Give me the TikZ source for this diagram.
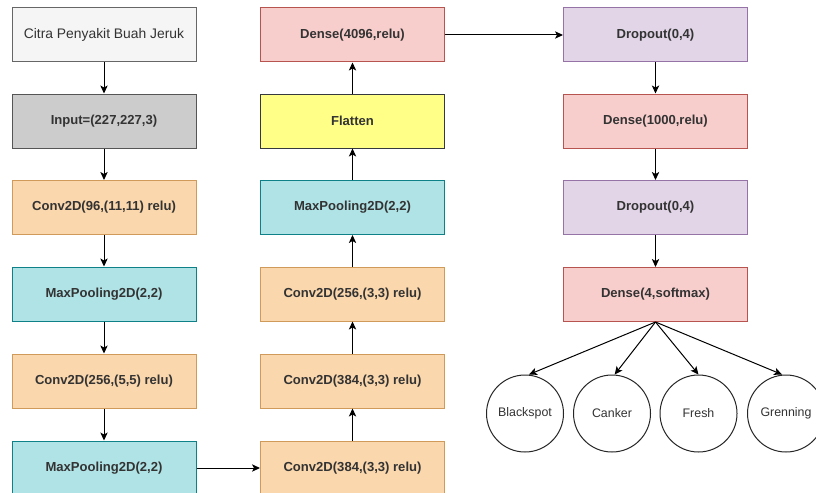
\documentclass[tikz,border=0pt]{standalone}
\usepackage{fontspec}
\setmainfont{Liberation Sans}
\usetikzlibrary{arrows.meta}
\definecolor{txt}{HTML}{333333}
\definecolor{grayF}{HTML}{F5F5F5}\definecolor{grayS}{HTML}{666666}
\definecolor{inF}{HTML}{CCCCCC}\definecolor{inS}{HTML}{555555}
\definecolor{orF}{HTML}{FAD7AC}\definecolor{orS}{HTML}{D09A5A}
\definecolor{tlF}{HTML}{B0E3E6}\definecolor{tlS}{HTML}{0E8088}
\definecolor{pkF}{HTML}{F8CECC}\definecolor{pkS}{HTML}{B85450}
\definecolor{ylF}{HTML}{FFFF88}\definecolor{ylS}{HTML}{36393D}
\definecolor{puF}{HTML}{E1D5E7}\definecolor{puS}{HTML}{9673A6}
\tikzset{
  x=0.75pt, y=-0.75pt,
  box/.style={draw, line width=0.75pt, minimum width=138pt, minimum height=40.5pt,
    inner sep=0pt, text=txt, font=\fontsize{9.8}{12}\selectfont\bfseries},
  citra/.style={box, fill=grayF, draw=grayS, font=\fontsize{10.4}{12}\selectfont},
  inbox/.style={box, fill=inF, draw=inS},
  conv/.style={box, fill=orF, draw=orS},
  pool/.style={box, fill=tlF, draw=tlS},
  dense/.style={box, fill=pkF, draw=pkS},
  flat/.style={box, fill=ylF, draw=ylS},
  drop/.style={box, fill=puF, draw=puS},
  cls/.style={circle, draw=black!85, line width=0.75pt, minimum size=57.75pt, inner sep=0pt,
    text=txt, font=\fontsize{9.3}{11}\selectfont},
  arr/.style={draw=black, line width=0.75pt, -{Stealth[length=6pt,width=5.5pt,inset=1.5pt]}}
}
\begin{document}
\begin{tikzpicture}
\useasboundingbox (0,0) rectangle (816,492);
\clip (0,0) rectangle (816,492);
\fill[white] (0,0) rectangle (816,492);
% left column
\node[citra] (c1) at (104,35) {Citra Penyakit Buah Jeruk};
\node[inbox] (in) at (104,121) {Input=(227,227,3)};
\node[conv] (cv1) at (104,207.5) {Conv2D(96,(11,11) relu)};
\node[pool] (mp1) at (104,294) {MaxPooling2D(2,2)};
\node[conv] (cv2) at (104,381) {Conv2D(256,(5,5) relu)};
\node[pool] (mp2) at (104,468) {MaxPooling2D(2,2)};
% middle column
\node[dense] (d1) at (352.5,35) {Dense(4096,relu)};
\node[flat] (fl) at (352.5,121) {Flatten};
\node[pool] (mp3) at (352.5,207.5) {MaxPooling2D(2,2)};
\node[conv] (cv5) at (352.5,294) {Conv2D(256,(3,3) relu)};
\node[conv] (cv4) at (352.5,381) {Conv2D(384,(3,3) relu)};
\node[conv] (cv3) at (352.5,468) {Conv2D(384,(3,3) relu)};
% right column
\node[drop] (dr1) at (655.5,35) {Dropout(0,4)};
\node[dense] (d2) at (655.5,121) {Dense(1000,relu)};
\node[drop] (dr2) at (655.5,207.5) {Dropout(0,4)};
\node[dense] (d3) at (655.5,294.5) {Dense(4,softmax)};
% classes
\node[cls] (bs) at (525,413.5) {Blackspot};
\node[cls] (ck) at (612,413.5) {Canker};
\node[cls] (fr) at (698.5,413.5) {Fresh};
\node[cls] (gr) at (786,413.5) {Grenning};
% connectors
\draw[arr] (c1) -- (in);
\draw[arr] (in) -- (cv1);
\draw[arr] (cv1) -- (mp1);
\draw[arr] (mp1) -- (cv2);
\draw[arr] (cv2) -- (mp2);
\draw[arr] (mp2) -- (cv3);
\draw[arr] (cv3) -- (cv4);
\draw[arr] (cv4) -- (cv5);
\draw[arr] (cv5) -- (mp3);
\draw[arr] (mp3) -- (fl);
\draw[arr] (fl) -- (d1);
\draw[arr] (d1) -- (dr1);
\draw[arr] (dr1) -- (d2);
\draw[arr] (d2) -- (dr2);
\draw[arr] (dr2) -- (d3);
\draw[arr] (d3.south) -- ([xshift=3pt]bs.north);
\draw[arr] (d3.south) -- ([xshift=2pt]ck.north);
\draw[arr] (d3.south) -- (fr.north);
\draw[arr] (d3.south) -- ([xshift=-3pt]gr.north);
\end{tikzpicture}
\end{document}
